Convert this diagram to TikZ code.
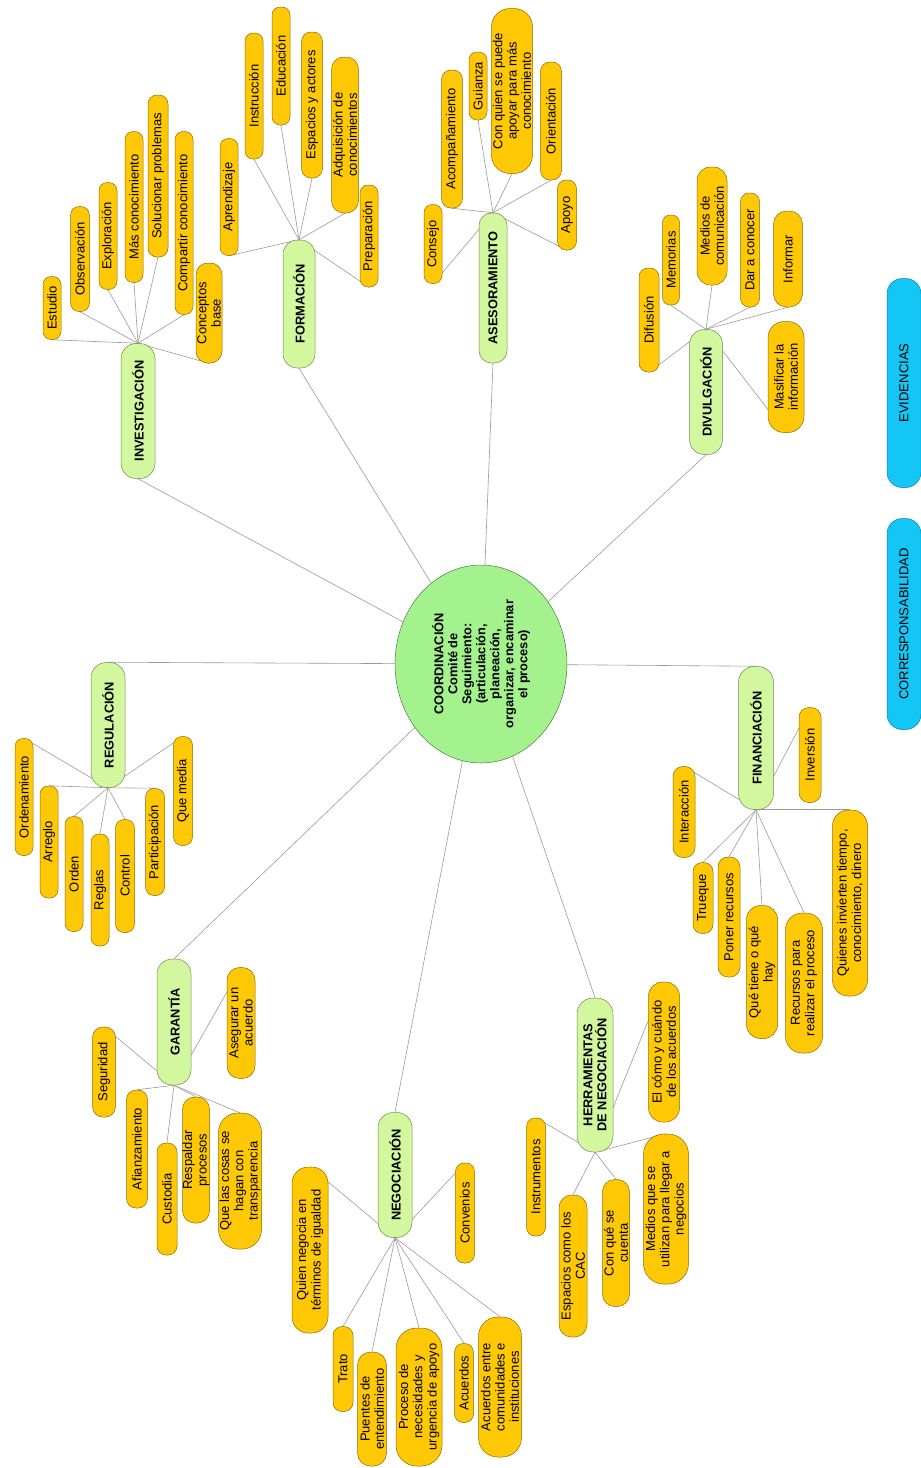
\documentclass[tikz,border=0pt]{standalone}
\usepackage{fontspec}
\setmainfont{Liberation Sans}
\usetikzlibrary{backgrounds,shapes.geometric}
\definecolor{leafc}{HTML}{FFC805}
\definecolor{leafd}{HTML}{8A6D00}
\definecolor{catc}{HTML}{D2F79E}
\definecolor{catd}{HTML}{6E8A50}
\definecolor{corec}{HTML}{A3F28D}
\definecolor{cored}{HTML}{4F7A45}
\definecolor{bluc}{HTML}{13C6F5}
\definecolor{blud}{HTML}{1080A8}
\definecolor{lnc}{HTML}{9A9A9A}
\tikzset{
  box/.style={draw, rotate=90, inner sep=0pt, align=center, line width=0.5pt,
    font=\fontsize{13}{14.3}\selectfont},
  leaf/.style={box, fill=leafc, draw=leafd},
  cat/.style={box, fill=catc, draw=catd, font=\fontsize{12.8}{14}\selectfont\bfseries},
  blue/.style={box, fill=bluc, draw=blud},
  core/.style={box, ellipse, fill=corec, draw=cored, font=\fontsize{12.8}{14}\selectfont\bfseries},
  conn/.style={draw=lnc, line width=0.6pt}
}
\newcommand{\pill}[7]{%
  \pgfmathsetmacro{\pillrad}{0.45*#6}%
  \node[#1, minimum width=#5pt, minimum height=#6pt, rounded corners=\pillrad pt] (#2) at (#3,#4) {#7};}
\begin{document}
\begin{tikzpicture}[x=1pt,y=-1pt]
\useasboundingbox (0,0) rectangle (921,1468);
% centre
\node[core, minimum width=198pt, minimum height=172pt] (core) at (481,664)
  {COORDINACIÓN\\Comité de\\Seguimiento:\\(articulación,\\planeación,\\organizar, encaminar\\el proceso)};
% categories
\pill{cat}{inv}{138}{411}{135}{34}{INVESTIGACIÓN}
\pill{cat}{form}{299}{304}{128}{32}{FORMACIÓN}
\pill{cat}{ases}{493}{288}{150}{28}{ASESORAMIENTO}
\pill{cat}{divu}{706}{392}{125}{33}{DIVULGACIÓN}
\pill{cat}{regu}{108}{725}{125}{34}{REGULACIÓN}
\pill{cat}{gara}{174}{1022}{126}{34}{GARANTÍA}
\pill{cat}{nego}{395}{1175}{125}{34}{NEGOCIACIÓN}
\pill{cat}{herr}{595}{1075}{154}{36}{HERRAMIENTAS\\DE NEGOCIACIÓN}
\pill{cat}{fina}{756}{738}{143}{35}{FINANCIACIÓN}
% blue
\pill{blue}{evid}{904}{383}{209}{34}{EVIDENCIAS}
\pill{blue}{corr}{904}{624}{211}{34}{CORRESPONSABILIDAD}
% investigacion
\pill{leaf}{estudio}{52}{308}{63}{18}{Estudio}
\pill{leaf}{observ}{80}{259}{105}{19}{Observación}
\pill{leaf}{explor}{108}{236}{107}{18}{Exploración}
\pill{leaf}{masc}{134}{207}{151}{18}{Más conocimiento}
\pill{leaf}{soluc}{158}{176}{162}{20}{Solucionar problemas}
\pill{leaf}{compart}{184}{223}{183}{18}{Compartir conocimiento}
\pill{leaf}{concep}{209}{313}{100}{26}{Conceptos\\base}
% formacion
\pill{leaf}{aprend}{229}{197}{117}{18}{Aprendizaje}
\pill{leaf}{instr}{254}{96}{126}{18}{Instrucción}
\pill{leaf}{educ}{281}{66}{118}{18}{Educación}
\pill{leaf}{espac}{312}{105}{146}{21}{Espacios y actores}
\pill{leaf}{adquis}{345}{135}{156}{27}{Adquisición de\\conocimientos}
\pill{leaf}{prepar}{369}{236}{102}{18}{Preparación}
% asesoramiento
\pill{leaf}{consejo}{433}{244}{79}{18}{Consejo}
\pill{leaf}{acomp}{452}{139}{138}{21}{Acompañamiento}
\pill{leaf}{guianza}{478}{86}{68}{18}{Guianza}
\pill{leaf}{conquien}{512}{91}{165}{41}{Con quien se puede\\apoyar para más\\conocimiento}
\pill{leaf}{orient}{551}{121}{118}{21}{Orientación}
\pill{leaf}{apoyo}{567}{215}{70}{19}{Apoyo}
% divulgacion
\pill{leaf}{difus}{649}{320}{104}{20}{Difusión}
\pill{leaf}{memor}{671}{260}{90}{17}{Memorias}
\pill{leaf}{medios}{712}{226}{118}{30}{Medios de\\comunicación}
\pill{leaf}{darac}{750}{250}{114}{19}{Dar a conocer}
\pill{leaf}{inform}{788}{259}{96}{29}{Informar}
\pill{leaf}{masif}{786}{377}{111}{36}{Masificar la\\información}
% regulacion
\pill{leaf}{ordenam}{24}{797}{117}{18}{Ordenamiento}
\pill{leaf}{arreglo}{49}{842}{112}{18}{Arreglo}
\pill{leaf}{orden}{74}{874}{115}{18}{Orden}
\pill{leaf}{reglas}{100}{890}{112}{18}{Reglas}
\pill{leaf}{control}{125}{876}{113}{19}{Control}
\pill{leaf}{particip}{155}{842}{107}{19}{Participación}
\pill{leaf}{quemedia}{183}{791}{109}{19}{Que media}
% garantia
\pill{leaf}{segur}{104}{1072}{90}{23}{Seguridad}
\pill{leaf}{asegur}{241}{1023}{111}{28}{Asegurar un\\acuerdo}
\pill{leaf}{afianz}{137}{1149}{118}{21}{Afianzamiento}
\pill{leaf}{custod}{167}{1199}{112}{20}{Custodia}
\pill{leaf}{respal}{196}{1160}{126}{27}{Respaldar\\procesos}
\pill{leaf}{quelas}{240}{1181}{136}{43}{Que las cosas se\\hagan con\\transparencia}
% negociacion
\pill{leaf}{quien}{310}{1250}{166}{36}{Quien negocia en\\términos de igualdad}
\pill{leaf}{conven}{465}{1213}{100}{19}{Convenios}
\pill{leaf}{trato}{343}{1369}{85}{20}{Trato}
\pill{leaf}{puentes}{372}{1409}{114}{29}{Puentes de\\entendimiento}
\pill{leaf}{proceso}{419}{1397}{138}{46}{Proceso de\\necesidades y\\urgencia de apoyo}
\pill{leaf}{acuerd}{464}{1383}{79}{19}{Acuerdos}
\pill{leaf}{acentre}{500}{1387}{140}{43}{Acuerdos entre\\comunidades e\\instituciones}
% herramientas
\pill{leaf}{instrum}{536}{1177}{118}{19}{Instrumentos}
\pill{leaf}{espcac}{573}{1266}{142}{28}{Espacios como los\\CAC}
\pill{leaf}{conque}{616}{1243}{127}{27}{Con qué se\\cuenta}
\pill{leaf}{medque}{666}{1209}{150}{45}{Medios que se\\utilizan para llegar a\\negocios}
\pill{leaf}{elcomo}{664}{1052}{140}{31}{El cómo y cuándo\\de los acuerdos}
% financiacion
\pill{leaf}{invers}{810}{755}{95}{22}{Inversión}
\pill{leaf}{interac}{684}{812}{91}{22}{Interacción}
\pill{leaf}{trueque}{703}{898}{71}{20}{Trueque}
\pill{leaf}{poner}{729}{917}{120}{22}{Poner recursos}
\pill{leaf}{quetiene}{762}{972}{133}{31}{Qué tiene o qué\\hay}
\pill{leaf}{recursos}{804}{983}{140}{37}{Recursos para\\realizar el proceso}
\pill{leaf}{quienes}{850}{903}{186}{35}{Quienes invierten tiempo,\\conocimiento, dinero}
% connectors
\begin{scope}[on background layer]
\foreach \a/\b in {inv.west/core, form.west/core, ases.west/core, divu.west/core,
  regu.east/core, gara.east/core, nego.east/core, herr.east/core, fina.east/core}
  \draw[conn] (\a) -- (\b);
\foreach \a/\b in {
  inv.east/estudio.west, inv.east/observ.west, inv.east/explor.west, inv.east/masc.west,
  inv.east/soluc.west, inv.east/compart.west, inv.east/concep.west,
  form.east/aprend.west, form.east/instr.west, form.east/educ.west, form.east/espac.west,
  form.east/adquis.west, form.east/prepar.west,
  ases.east/consejo.west, ases.east/acomp.west, ases.east/guianza.west, ases.east/conquien.west,
  ases.east/orient.west, ases.east/apoyo.west,
  divu.east/difus.west, divu.east/memor.west, divu.east/medios.west, divu.east/darac.west,
  divu.east/inform.west, divu.east/masif.west,
  regu.west/ordenam.east, regu.west/arreglo.east, regu.west/orden.east, regu.west/reglas.east,
  regu.west/control.east, regu.west/particip.east, regu.west/quemedia.east,
  gara.west/segur.east, gara.west/asegur.east, gara.west/afianz.east, gara.west/custod.east,
  gara.west/respal.east, gara.west/quelas.east,
  nego.west/quien.east, nego.west/conven.east, nego.west/trato.east, nego.west/puentes.east,
  nego.west/proceso.east, nego.west/acuerd.east, nego.west/acentre.east,
  herr.west/instrum.east, herr.west/espcac.east, herr.west/conque.east, herr.west/medque.east,
  herr.west/elcomo.east,
  fina.west/invers.east, fina.west/interac.east, fina.west/trueque.east, fina.west/poner.east,
  fina.west/quetiene.east, fina.west/recursos.east, fina.west/quienes.east}
  \draw[conn] (\a) -- (\b);
\end{scope}
\end{tikzpicture}
\end{document}
